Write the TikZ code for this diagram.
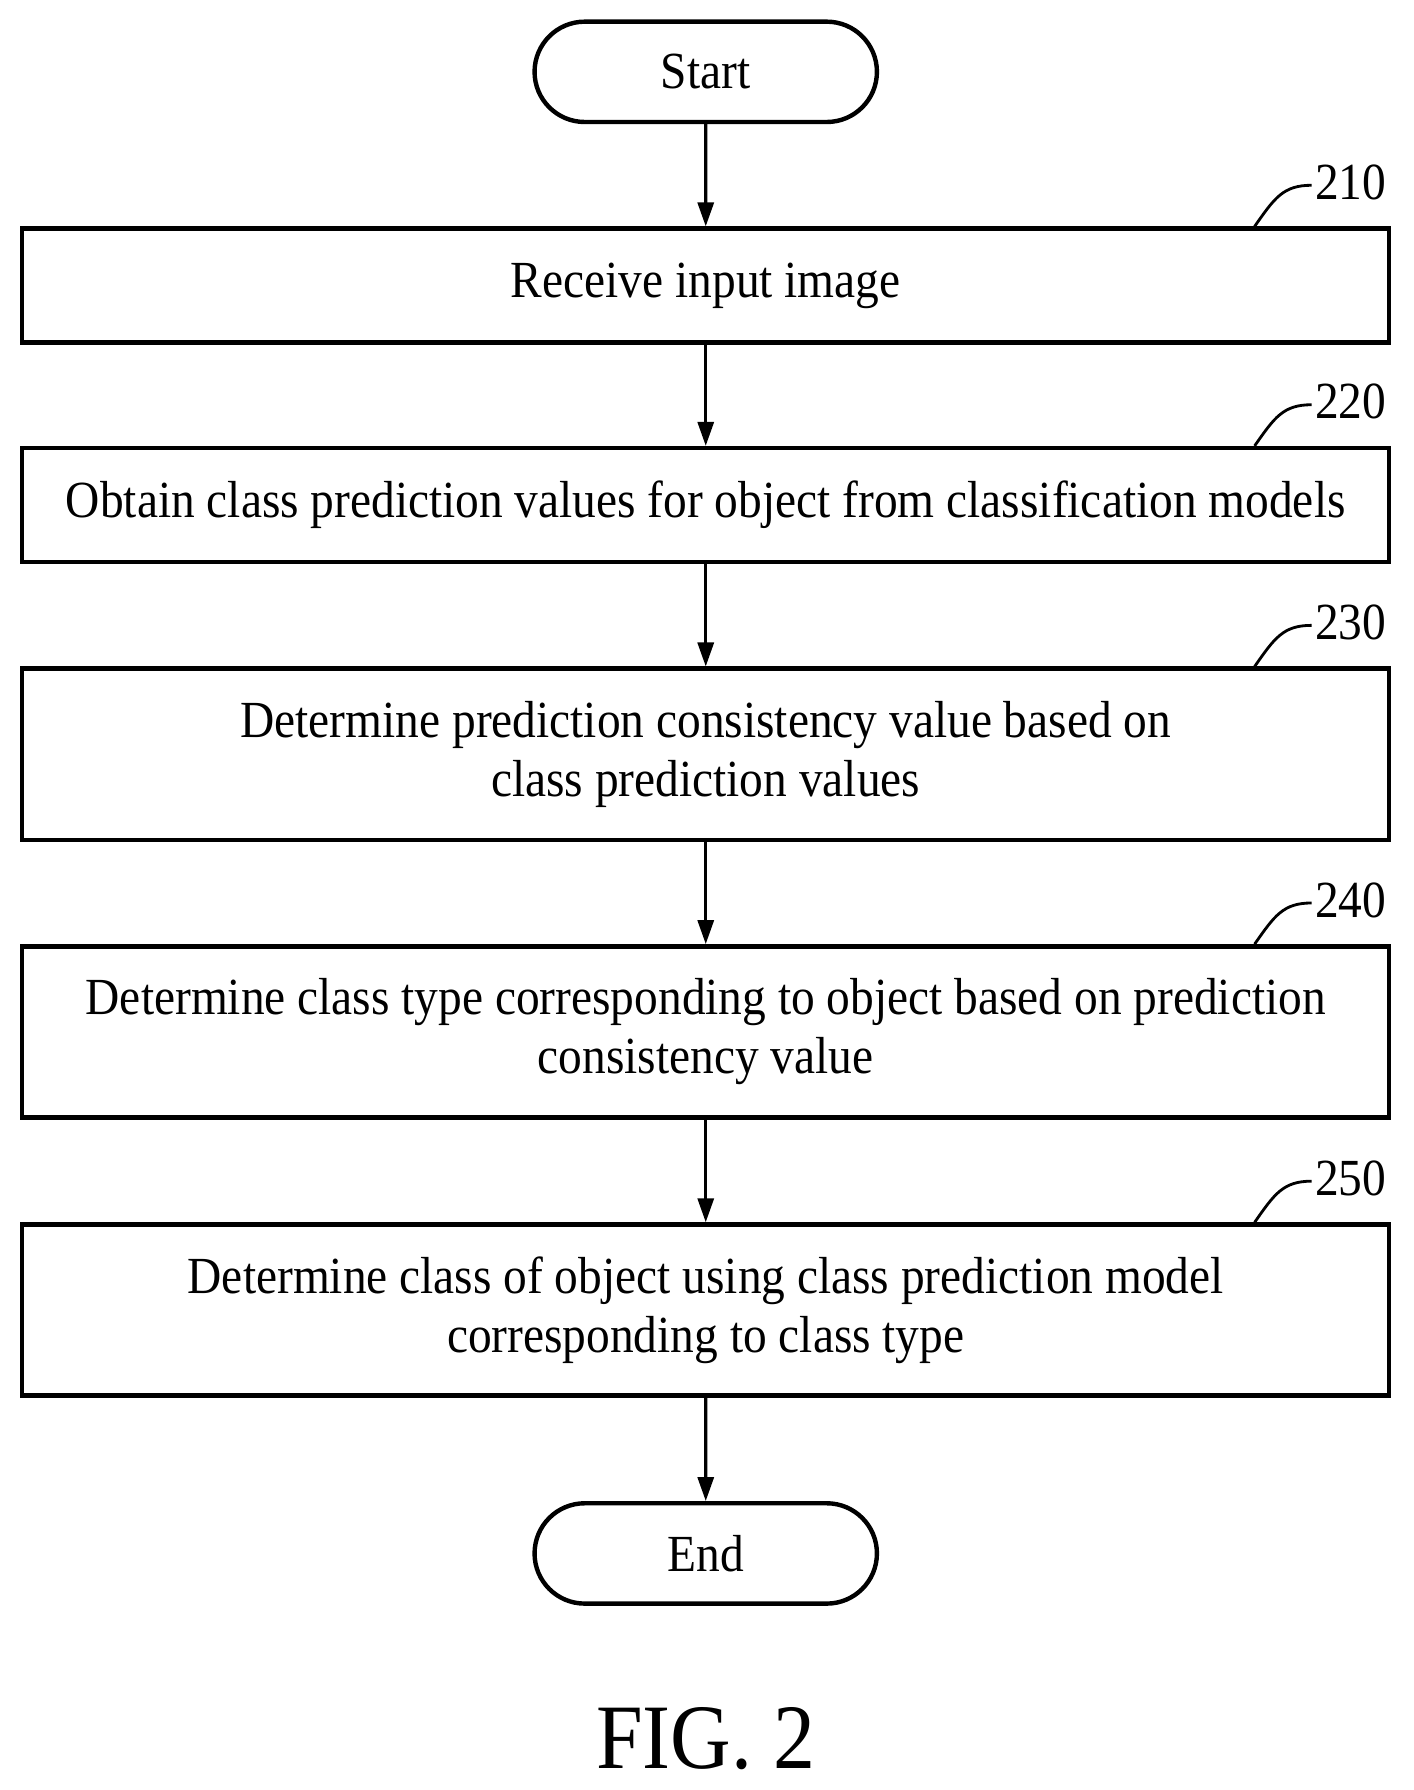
\documentclass[tikz,border=0pt]{standalone}
\usepackage{fontspec}
\setmainfont{Liberation Serif}[FakeStretch=0.91]
\usetikzlibrary{arrows.meta,shapes}
\tikzset{
	block/.style    = {draw, line width=2.2pt, rectangle,
		minimum height = 2cm,
		minimum width = 23.98cm, align=center},
	tall/.style     = {minimum height = 3cm},
	term/.style     = {draw, line width=2.2pt, rounded rectangle,
		minimum height = 1.76cm, minimum width = 6.24cm},
	tag/.style      = {font=\fontsize{26}{30}\selectfont},
}

\begin{document}
\begin{tikzpicture}[ line width=1.6pt,
                     every node/.style={font=\fontsize{26}{29.5}\selectfont},
                     >/.tip={Triangle[width=8pt,length=12pt]}
                     ]
    \useasboundingbox (0,0) rectangle (24.8,-31.4);

    %-- Blocks creation --%
    \draw
      node(start) at (12.38,-1.26) [term] {Start}
      node(receive) at (12.38,-5.01) [block] {Receive input image}
      node(obtain) at (12.38,-8.86) [block] {Obtain class prediction values for object from classification models}
      node(consistency) at (12.38,-13.23) [block, tall] {Determine prediction consistency value based on\\class prediction values}
      node(classtype) at (12.38,-18.1) [block, tall] {Determine class type corresponding to object based on prediction\\consistency value}
      node(classify) at (12.38,-22.98) [block, tall] {Determine class of object using class prediction model\\corresponding to class type}
      node(finish) at (12.38,-27.25) [term] {End}
    ;

    %-- Block linking --%
    \draw[->] (start)       -- (receive);
    \draw[->] (receive)     -- (obtain);
    \draw[->] (obtain)      -- (consistency);
    \draw[->] (consistency) -- (classtype);
    \draw[->] (classtype)   -- (classify);
    \draw[->] (classify)    -- (finish);

    %-- Reference numerals --%
    \foreach \num/\blk in {210/receive, 220/obtain, 230/consistency, 240/classtype, 250/classify}{
      \node[tag, anchor=south west, inner sep=1pt] (lbl\num) at ([xshift=-1.4cm,yshift=0.4cm]\blk.north east) {\num};
      \draw[line width=1.4pt] ([xshift=-2.4cm]\blk.north east) .. controls +(0.35,0.5) and +(-0.5,0) .. ([yshift=-0.05cm]lbl\num.west);
    }

    \node (figlabel) at (12.38,-30.5) {\fontsize{46}{50}\selectfont FIG. 2};
\end{tikzpicture}
\end{document}
